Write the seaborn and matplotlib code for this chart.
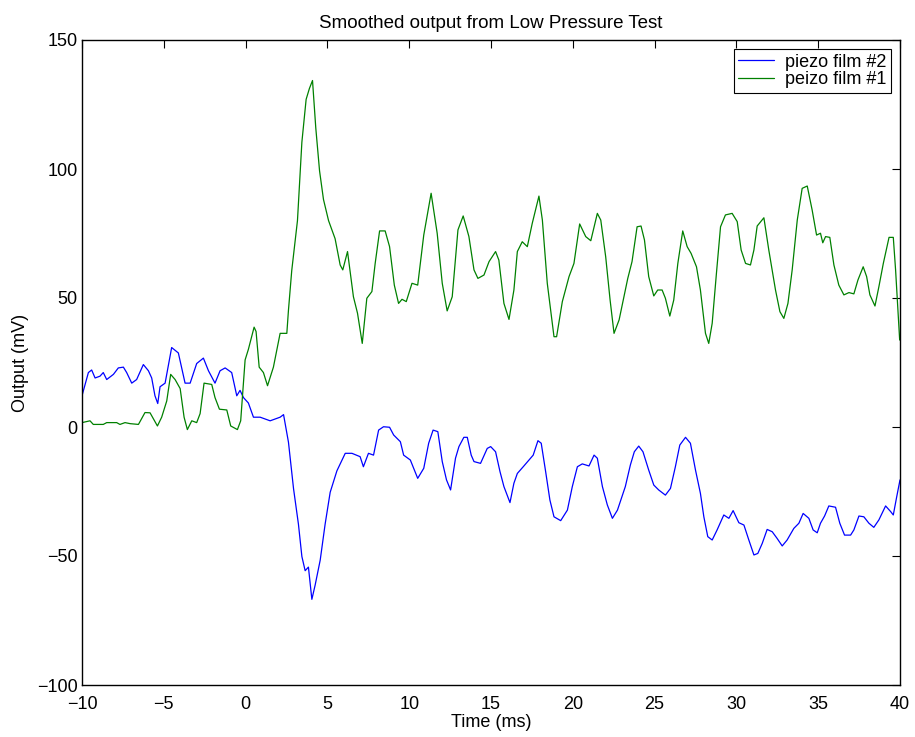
import numpy as np
import pandas as pd
import matplotlib
matplotlib.use("Agg")
import matplotlib.pyplot as plt
import seaborn as sns

# ---- data ----
blue_t = [-10, -9.61, -9.41, -9.2, -8.9, -8.7, -8.49, -8.08, -7.78, -7.47, -7.27, -6.96, -6.66,
          -6.25, -5.94, -5.74, -5.54, -5.37, -5.23, -4.92, -4.52, -4.11, -3.7, -3.39, -2.99,
          -2.58, -2.27, -1.87, -1.56, -1.25, -0.85, -0.54, -0.34, -0.13, 0.17, 0.48, 0.89,
          1.5, 2.11, 2.32, 2.62, 2.93, 3.23, 3.44, 3.64, 3.84, 4.05, 4.25, 4.56, 4.86, 5.17,
          5.58,
          6.09, 6.5, 7.0, 7.2, 7.51, 7.82, 8.13, 8.43, 8.8, 9.05, 9.46, 9.66, 10.07, 10.52,
          10.89, 11.19, 11.46, 11.75, 12.02, 12.28, 12.53, 12.83, 13.04, 13.34, 13.55, 13.79,
          13.96, 14.36, 14.77, 14.98, 15.28, 15.55, 15.79, 16.16, 16.4, 16.61, 16.97, 17.32,
          17.58, 17.87, 18.07, 18.34, 18.6, 18.85, 19.26, 19.67, 19.97, 20.28, 20.58, 20.99,
          21.3, 21.5, 21.81, 22.11, 22.42, 22.73,
          23.21, 23.52, 23.76, 24.03, 24.29, 24.64, 24.95, 25.25, 25.66, 25.97, 26.27, 26.54,
          26.89, 27.19, 27.5, 27.8, 28.01, 28.25, 28.52, 28.82, 29.23, 29.54, 29.8, 30.15,
          30.46, 30.76, 31.07, 31.31, 31.58, 31.88, 32.19, 32.49, 32.8, 33.1, 33.51, 33.82,
          34.08, 34.43, 34.69, 34.94, 35.14, 35.39, 35.65, 36.06, 36.32, 36.61, 36.98, 37.18,
          37.49, 37.79, 38.1, 38.4, 38.71, 39.12, 39.43, 39.59, 39.8, 40.0]
blue_mv = [12.1, 21.1, 22.1, 19.0, 19.7, 21.1, 18.4, 20.4, 22.9, 23.2, 21.1, 17.0, 18.4,
           24.2, 21.8, 19.0, 12.1, 9.1, 15.6, 17.0, 30.8, 28.7, 17.0, 17.0, 24.6,
           26.7, 21.8, 17.0, 21.8, 22.9, 21.1, 12.1, 14.2, 11.4, 9.3, 3.8, 3.8,
           2.4, 3.8, 4.8, -5.9, -23.9, -37.7, -50.2, -55.7, -54.3, -66.8, -61.3, -51.6, -37.7, -25.3,
           -17.0,
           -10.2, -10.2, -11.5, -15.4, -10.2, -10.9, -1.2, 0.1, -0.1, -3.1, -5.7, -10.9, -12.8, -19.9,
           -16.0, -6.3, -1.2, -1.8, -13.4, -20.5, -24.4, -12.1, -7.6, -4.0, -4.0, -10.9,
           -13.4, -14.1, -8.3, -7.6, -9.6, -17.3, -23.1, -29.3, -21.8, -18.0, -15.4, -12.8,
           -10.9, -5.3, -6.3, -17.3, -28.3, -34.8, -36.3, -32.2, -23.1, -15.4, -14.3, -15.1,
           -10.9, -12.1, -23.1, -30.2, -35.4, -32.2,
           -23.1, -14.7, -9.6, -7.4, -9.6, -16.7, -22.5, -24.4, -26.4, -23.8, -15.4, -7.0,
           -4.0, -6.3, -16.7, -25.7, -34.8, -42.5, -43.8, -39.9, -34.1, -35.4, -32.4, -37.1,
           -38.0, -43.8, -49.6, -49.0, -45.1, -39.7, -40.6, -43.2, -46.1, -43.8, -39.3, -37.3,
           -33.5, -35.4, -39.9, -41.0, -37.3, -34.5, -30.6, -31.1, -37.3, -41.9, -41.9, -39.9,
           -34.5, -34.8, -37.3, -38.9, -36.0, -30.6, -32.8, -34.1, -27.0, -20.5]

green_t = [-10, -9.51, -9.31, -8.7, -8.49, -7.88, -7.68, -7.37, -7.06, -6.55, -6.15, -5.84,
           -5.39, -5.13, -4.82, -4.58, -4.31, -4.0, -3.76, -3.56, -3.29, -2.99, -2.78, -2.54,
           -2.07, -1.87, -1.6, -1.15, -0.91, -0.5, -0.3, -0.03, 0.17, 0.52, 0.64, 0.83, 1.09,
           1.34, 1.7, 2.11, 2.52, 2.62, 2.82, 3.17, 3.44, 3.7, 3.9, 4.09, 4.29, 4.52, 4.76,
           5.07, 5.47,
           5.78, 5.94, 6.23, 6.59, 6.84, 7.13, 7.41, 7.72, 7.92, 8.19, 8.53, 8.8, 9.09, 9.35,
           9.56, 9.82, 10.17, 10.52, 10.89, 11.34, 11.71, 12.02, 12.32, 12.63, 12.98, 13.3,
           13.65, 13.96, 14.2, 14.57, 14.88, 15.28, 15.48, 15.79, 16.1, 16.4, 16.61, 16.91,
           17.22, 17.52, 17.93, 18.14, 18.44, 18.85, 19.01, 19.36, 19.77, 20.07, 20.42, 20.79,
           21.1, 21.5, 21.71, 22.01, 22.28, 22.52, 22.83,
           23.11, 23.36, 23.62, 23.93, 24.17, 24.38, 24.64, 24.95, 25.19, 25.46, 25.66, 25.93,
           26.17, 26.42, 26.72, 26.99, 27.23, 27.56, 27.8, 28.11, 28.31, 28.52, 28.78, 29.03,
           29.33, 29.74, 30.05, 30.29, 30.56, 30.86, 31.07, 31.27, 31.68, 31.98, 32.39, 32.66,
           32.9, 33.15, 33.41, 33.72, 34.02, 34.33, 34.63, 34.9, 35.14, 35.28, 35.45, 35.71,
           35.96, 36.26, 36.57, 36.88, 37.18, 37.43, 37.75, 37.96, 38.16, 38.47, 38.71, 38.98,
           39.33, 39.59, 39.73, 39.98]
green_mv = [1.7, 2.4, 1.0, 1.0, 1.7, 1.7, 1.0, 1.7, 1.3, 1.0, 5.6, 5.5,
            0.4, 3.8, 10.1, 20.4, 18.4, 14.9, 3.8, -1.0, 2.4, 1.7, 5.2, 17.0,
            16.5, 11.4, 6.9, 6.6, 0.4, -1.0, 2.4, 26.0, 30.1, 38.7, 37.0, 23.2, 21.1,
            16.0, 23.2, 36.3, 36.3, 45.3, 60.6, 80.0, 110.4, 127.0, 131.2, 134.3, 115.9, 99.3, 88.2,
            80.0, 73.0,
            62.8, 60.9, 68.0, 50.5, 44.1, 32.4, 49.9, 52.5, 63.4, 76.0, 76.0, 69.9, 55.0, 47.9,
            49.5, 48.6, 55.7, 55.0, 74.4, 90.6, 75.1, 55.7, 45.0, 50.5, 76.4, 81.8,
            73.8, 60.9, 57.6, 58.9, 64.1, 68.0, 64.7, 47.9, 41.7, 53.1, 68.0, 71.8,
            69.9, 78.9, 89.5, 80.2, 55.7, 35.0, 35.0, 48.6, 58.3, 63.4, 78.7, 73.8,
            72.2, 82.8, 80.2, 66.0, 49.2, 36.3, 41.5,
            49.9, 57.6, 64.1, 77.6, 77.9, 72.5, 58.3, 50.8, 53.1, 53.1, 49.9, 43.0,
            49.2, 63.4, 76.0, 69.9, 67.3, 62.1, 53.1, 36.3, 32.4, 40.2, 59.6, 77.6,
            82.2, 82.8, 79.6, 68.6, 63.4, 62.8, 68.6, 77.9, 81.1, 68.6, 53.1, 44.7,
            42.1, 47.9, 60.9, 80.2, 92.5, 93.4, 84.1, 74.4, 75.1, 71.4, 73.8, 73.5,
            62.8, 55.0, 51.2, 52.1, 51.6, 57.0, 62.1, 58.3, 51.2, 46.9, 54.4, 63.4,
            73.5, 73.5, 60.9, 33.7]

series_labels = ["piezo film #2", "peizo film #1"]
x_ticks = [-10, -5, 0, 5, 10, 15, 20, 25, 30, 35, 40]
y_ticks = [-100, -50, 0, 50, 100, 150]

# ---- styling ----
sns.set_theme(style="white")
plt.rcParams["font.family"] = ["Liberation Sans", "DejaVu Sans"]
plt.rcParams["axes.unicode_minus"] = True
plt.rcParams["text.color"] = "black"
plt.rcParams["axes.labelcolor"] = "black"

FS = 13

fig = plt.figure(figsize=(9.15, 7.37), dpi=100)
ax = fig.add_axes([82 / 915, 1 - 685 / 737, (900 - 82) / 915, (685 - 40) / 737])

df_b = pd.DataFrame({"t": blue_t, "v": blue_mv})
df_g = pd.DataFrame({"t": green_t, "v": green_mv})
sns.lineplot(data=df_b, x="t", y="v", color=(0, 0, 1), linewidth=0.9,
             label=series_labels[0], ax=ax, estimator=None, sort=False)
sns.lineplot(data=df_g, x="t", y="v", color=(0, 0.5, 0), linewidth=0.9,
             label=series_labels[1], ax=ax, estimator=None, sort=False)

ax.set_xlim(-10, 40)
ax.set_ylim(-100, 150)
ax.set_xticks(x_ticks)
ax.set_yticks(y_ticks)
ax.tick_params(direction="in", length=6, width=0.8, top=True, right=True,
               labelsize=FS, colors="black")
ax.tick_params(axis="x", pad=8)
ax.tick_params(axis="y", pad=3)
for s in ax.spines.values():
    s.set_color("black")
    s.set_linewidth(1.0)
ax.set_title("Smoothed output from Low Pressure Test", fontsize=13.5, pad=9, color="black")
ax.set_xlabel("Time (ms)", fontsize=FS, color="black")
ax.xaxis.set_label_coords(0.5, -0.045)
ax.set_ylabel("Output (mV)", fontsize=FS, labelpad=6, color="black")

leg = ax.legend(loc="upper right", fontsize=FS, frameon=True, fancybox=False,
                edgecolor="black", framealpha=1, borderaxespad=0.5,
                handlelength=2.0, handletextpad=0.6, borderpad=0.25, labelspacing=0.05)
leg.get_frame().set_linewidth(0.8)
for t in leg.get_texts():
    t.set_color("black")

fig.savefig("out.png", dpi=100)
